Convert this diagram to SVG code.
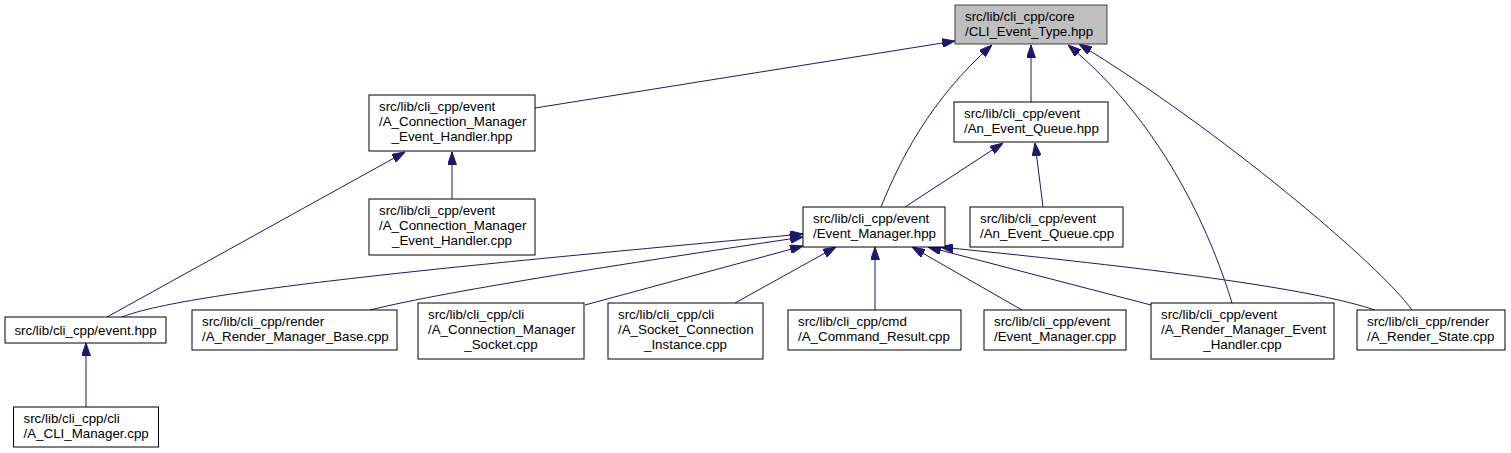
<svg xmlns="http://www.w3.org/2000/svg" width="1511" height="453" viewBox="0 0 1511 453">
<style>
  .node rect { fill: #ffffff; stroke: #000000; stroke-width: 1; }
  .node.root rect { fill: #bfbfbf; stroke: #404040; }
  .node text { font-family: "Liberation Sans", Arial, sans-serif; font-size: 13.33px; fill: #000000; }
  .node text.c { text-anchor: middle; }
  .edges path { fill: none; stroke: #191970; stroke-width: 1; marker-end: url(#arrow); }
</style>
<defs>
  <marker id="arrow" markerUnits="userSpaceOnUse" viewBox="0 0 13 9" markerWidth="13" markerHeight="9" refX="13" refY="4.5" orient="auto">
    <path d="M0,0 L13,4.5 L0,9 Z" fill="#191970" stroke="#191970" stroke-width="1"/>
  </marker>
</defs>
<rect x="0" y="0" width="1511" height="453" fill="#ffffff"/>
<g id="edges" class="edges">
  <path d="M535,108 L955,41"/>
  <path d="M881,207 C900,160 930,100 992,45"/>
  <path d="M1031,102 L1031,45"/>
  <path d="M1232,303 C1210,230 1160,120 1068,45"/>
  <path d="M1412,310 C1380,265 1220,130 1079,44"/>
  <path d="M107,317 L405,152"/>
  <path d="M452,199 L452,152"/>
  <path d="M905,207 L1003,143"/>
  <path d="M1043,207 L1035,143"/>
  <path d="M122,317 C190,290 500,262 803,234"/>
  <path d="M370,310 C450,290 650,260 803,237"/>
  <path d="M585,305 L803,246"/>
  <path d="M735,303 L836,247"/>
  <path d="M875,310 L875,247"/>
  <path d="M1022,310 L912,247"/>
  <path d="M1151,305 L928,247"/>
  <path d="M1375,310 C1310,288 1150,268 940,247"/>
  <path d="M86,407 L86,343"/>
</g>
<g id="node-cli-event-type" class="node root">
  <rect x="955" y="5" width="152" height="39"/>
  <text x="965" y="21">src/lib/cli_cpp/core</text>
  <text x="965" y="35.7">/CLI_Event_Type.hpp</text>
</g>
<g id="node-conn-mgr-eh-hpp" class="node">
  <rect x="369" y="95" width="166" height="56"/>
  <text x="379" y="111.3">src/lib/cli_cpp/event</text>
  <text x="379" y="126">/A_Connection_Manager</text>
  <text class="c" x="452" y="140.7">_Event_Handler.hpp</text>
</g>
<g id="node-conn-mgr-eh-cpp" class="node">
  <rect x="369" y="199" width="166" height="56"/>
  <text x="379" y="215.3">src/lib/cli_cpp/event</text>
  <text x="379" y="230">/A_Connection_Manager</text>
  <text class="c" x="452" y="244.7">_Event_Handler.cpp</text>
</g>
<g id="node-event-queue-hpp" class="node">
  <rect x="954" y="102" width="154" height="40"/>
  <text x="964" y="118">src/lib/cli_cpp/event</text>
  <text x="964" y="132.7">/An_Event_Queue.hpp</text>
</g>
<g id="node-event-manager-hpp" class="node">
  <rect x="803" y="207" width="142" height="40"/>
  <text x="813" y="223">src/lib/cli_cpp/event</text>
  <text x="813" y="237.7">/Event_Manager.hpp</text>
</g>
<g id="node-event-queue-cpp" class="node">
  <rect x="970" y="207" width="153" height="40"/>
  <text x="980" y="223">src/lib/cli_cpp/event</text>
  <text x="980" y="237.7">/An_Event_Queue.cpp</text>
</g>
<g id="node-event-hpp" class="node">
  <rect x="5" y="317" width="161" height="26"/>
  <text class="c" x="85.5" y="334.5">src/lib/cli_cpp/event.hpp</text>
</g>
<g id="node-cli-manager-cpp" class="node">
  <rect x="13.5" y="407" width="145" height="40"/>
  <text x="23.5" y="423">src/lib/cli_cpp/cli</text>
  <text x="23.5" y="437.7">/A_CLI_Manager.cpp</text>
</g>
<g id="node-render-manager-base-cpp" class="node">
  <rect x="192" y="310" width="205" height="40"/>
  <text x="202" y="326">src/lib/cli_cpp/render</text>
  <text x="202" y="340.7">/A_Render_Manager_Base.cpp</text>
</g>
<g id="node-conn-mgr-socket-cpp" class="node">
  <rect x="418" y="303" width="166" height="56"/>
  <text x="428" y="319.3">src/lib/cli_cpp/cli</text>
  <text x="428" y="334">/A_Connection_Manager</text>
  <text class="c" x="501" y="348.7">_Socket.cpp</text>
</g>
<g id="node-socket-conn-instance-cpp" class="node">
  <rect x="608" y="303" width="155" height="56"/>
  <text x="618" y="319.3">src/lib/cli_cpp/cli</text>
  <text x="618" y="334">/A_Socket_Connection</text>
  <text class="c" x="685.5" y="348.7">_Instance.cpp</text>
</g>
<g id="node-command-result-cpp" class="node">
  <rect x="788" y="310" width="173" height="40"/>
  <text x="798" y="326">src/lib/cli_cpp/cmd</text>
  <text x="798" y="340.7">/A_Command_Result.cpp</text>
</g>
<g id="node-event-manager-cpp" class="node">
  <rect x="984" y="310" width="142" height="40"/>
  <text x="994" y="326">src/lib/cli_cpp/event</text>
  <text x="994" y="340.7">/Event_Manager.cpp</text>
</g>
<g id="node-render-manager-eh-cpp" class="node">
  <rect x="1151" y="303" width="183" height="56"/>
  <text x="1161" y="319.3">src/lib/cli_cpp/event</text>
  <text x="1161" y="334">/A_Render_Manager_Event</text>
  <text class="c" x="1242.5" y="348.7">_Handler.cpp</text>
</g>
<g id="node-render-state-cpp" class="node">
  <rect x="1357" y="310" width="148" height="40"/>
  <text x="1367" y="326">src/lib/cli_cpp/render</text>
  <text x="1367" y="340.7">/A_Render_State.cpp</text>
</g>
</svg>
